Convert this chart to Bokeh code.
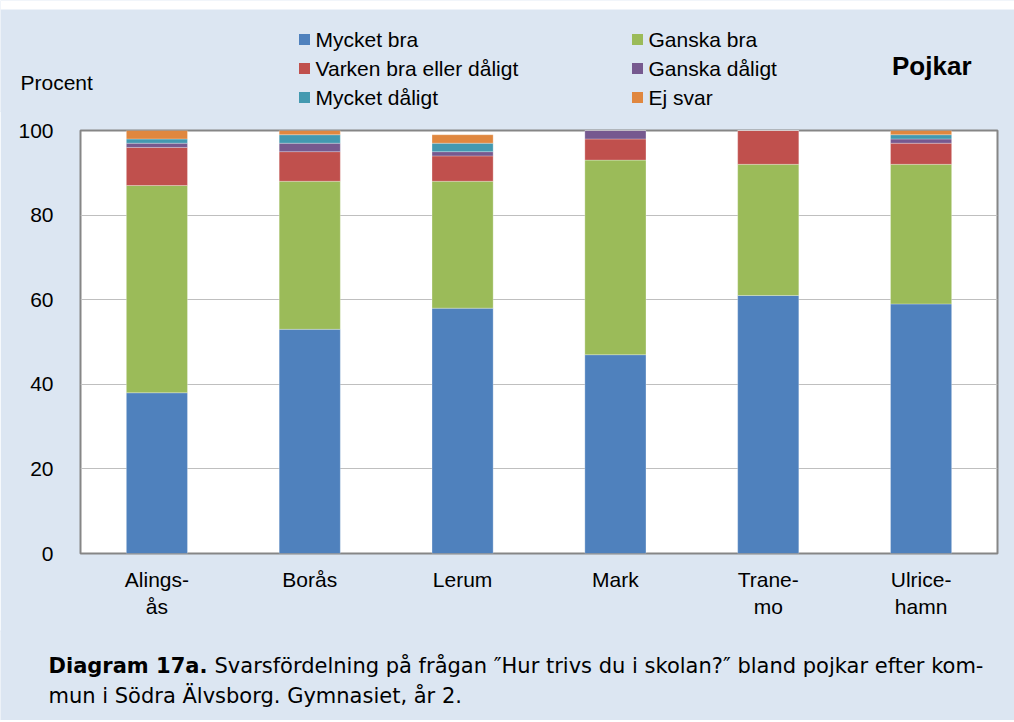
from bokeh.plotting import figure
from bokeh.models import ColumnDataSource, FixedTicker, Range1d
from bokeh.core.properties import value
from bokeh.embed import file_html
from bokeh.resources import INLINE

kommuner = ["Alings-\nås", "Borås", "Lerum", "Mark", "Trane-\nmo", "Ulrice-\nhamn"]
mycket_bra = [38, 53, 58, 47, 61, 59]
ganska_bra = [49, 35, 30, 46, 31, 33]
varken = [9, 7, 6, 5, 8, 5]
ganska_daligt = [1, 2, 1, 2, 0, 1]
mycket_daligt = [1, 2, 2, 0, 0, 1]
ej_svar = [2, 1, 2, 0, 0, 1]

series = ["Mycket bra", "Ganska bra", "Varken bra eller dåligt",
          "Ganska dåligt", "Mycket dåligt", "Ej svar"]
colors = ["#4f81bd", "#9bbb59", "#c0504d", "#76598f", "#4399b0", "#e0873f"]
y_ticks = [0, 20, 40, 60, 80, 100]

BG = "#dce6f2"
W = 1014
OV = 2                                  # overlap between stacked panels
TOP_H, MAIN_H, BOT_H = 110 + OV, 520 + OV, 88 + OV
FL, FR, FT, FB = 80, 997, 130, 553      # plot frame in page pixels


def panel(h, margin=None):
    f = figure(width=W, height=h, x_range=Range1d(0, W), y_range=Range1d(h, 0),
               output_backend="svg", toolbar_location=None,
               x_axis_location=None, y_axis_location=None,
               min_border=0, min_border_left=0, min_border_right=0,
               min_border_top=0, min_border_bottom=0)
    if margin is not None:
        f.margin = margin
    f.grid.visible = False
    f.outline_line_color = None
    f.background_fill_color = BG
    f.border_fill_color = BG
    return f


SANS = value("Liberation Sans")

# ---- top panel: y-label, legend, title
top = panel(TOP_H)
top.quad(left=[0], right=[W], top=[0], bottom=[9], color="white", line_color=None)
top.text(x=[20], y=[82], text=["Procent"], text_font=SANS,
         text_font_size="21px", text_baseline="middle", text_color="black")
top.text(x=[971], y=[65], text=["Pojkar"], text_font=SANS,
         text_font_size="26px", text_font_style="bold", text_baseline="middle",
         text_align="right", text_color="black")
lx = [304, 637, 304, 637, 304, 637]
ly = [39, 39, 68, 68, 97, 97]
top.scatter(x=lx, y=ly, marker="square", size=11, color=colors, line_color=None)
top.text(x=[v + 11 for v in lx], y=ly, text=series, text_font=SANS,
         text_font_size="21px", text_baseline="middle", text_color="black")

# ---- main chart
xs = list(range(len(kommuner)))
source = ColumnDataSource(dict(x=xs, s0=mycket_bra, s1=ganska_bra, s2=varken,
                               s3=ganska_daligt, s4=mycket_daligt, s5=ej_svar))

MAIN_TOP = TOP_H - OV
p = figure(width=W, height=MAIN_H, x_range=Range1d(-0.5, len(xs) - 0.5),
           y_range=Range1d(0, 100), output_backend="svg", toolbar_location=None,
           min_border_left=FL, min_border_right=W - FR,
           min_border_top=FT - MAIN_TOP, min_border_bottom=MAIN_TOP + MAIN_H - FB)
p.margin = (-OV, 0, 0, 0)
p.border_fill_color = BG
p.background_fill_color = "white"
p.outline_line_color = "#868686"
p.outline_line_width = 2

p.vbar_stack(["s0", "s1", "s2", "s3", "s4", "s5"], x="x", width=0.4, source=source,
             color=colors, line_color="white", line_alpha=0.35, line_width=0.8)

p.xgrid.visible = False
p.ygrid.ticker = FixedTicker(ticks=y_ticks)
p.ygrid.grid_line_color = "#bfbfbf"
p.ygrid.grid_line_width = 1

p.yaxis.ticker = FixedTicker(ticks=y_ticks)
p.yaxis.axis_line_color = None
p.yaxis.major_tick_line_color = None
p.yaxis.minor_tick_line_color = None
p.yaxis.major_label_text_font = "Liberation Sans"
p.yaxis.major_label_text_font_size = "21px"
p.yaxis.major_label_text_color = "black"
p.yaxis.major_label_standoff = 21

p.xaxis.ticker = FixedTicker(ticks=xs)
p.xaxis.major_label_overrides = {i: k for i, k in enumerate(kommuner)}
p.xaxis.axis_line_color = None
p.xaxis.major_tick_line_color = None
p.xaxis.minor_tick_line_color = None
p.xaxis.major_label_text_font = "Liberation Sans"
p.xaxis.major_label_text_font_size = "21px"
p.xaxis.major_label_text_color = "black"
p.xaxis.major_label_standoff = 8

# ---- bottom panel: caption
bot = panel(BOT_H, margin=(-OV, 0, 0, 0))
cap_font = value("DejaVu Sans")
bot.text(x=[48], y=[33 + OV], text=["Diagram 17a."], text_font=cap_font,
         text_font_size="21px", text_font_style="bold", text_baseline="middle",
         text_color="black")
bot.text(x=[214, 48], y=[33 + OV, 63 + OV],
         text=["Svarsfördelning på frågan ″Hur trivs du i skolan?″ bland pojkar efter kom-",
               "mun i Södra Älvsborg. Gymnasiet, år 2."],
         text_font=cap_font, text_font_size="21px", text_baseline="middle",
         text_color="black")

open("out.html", "w").write(file_html([top, p, bot], INLINE))
